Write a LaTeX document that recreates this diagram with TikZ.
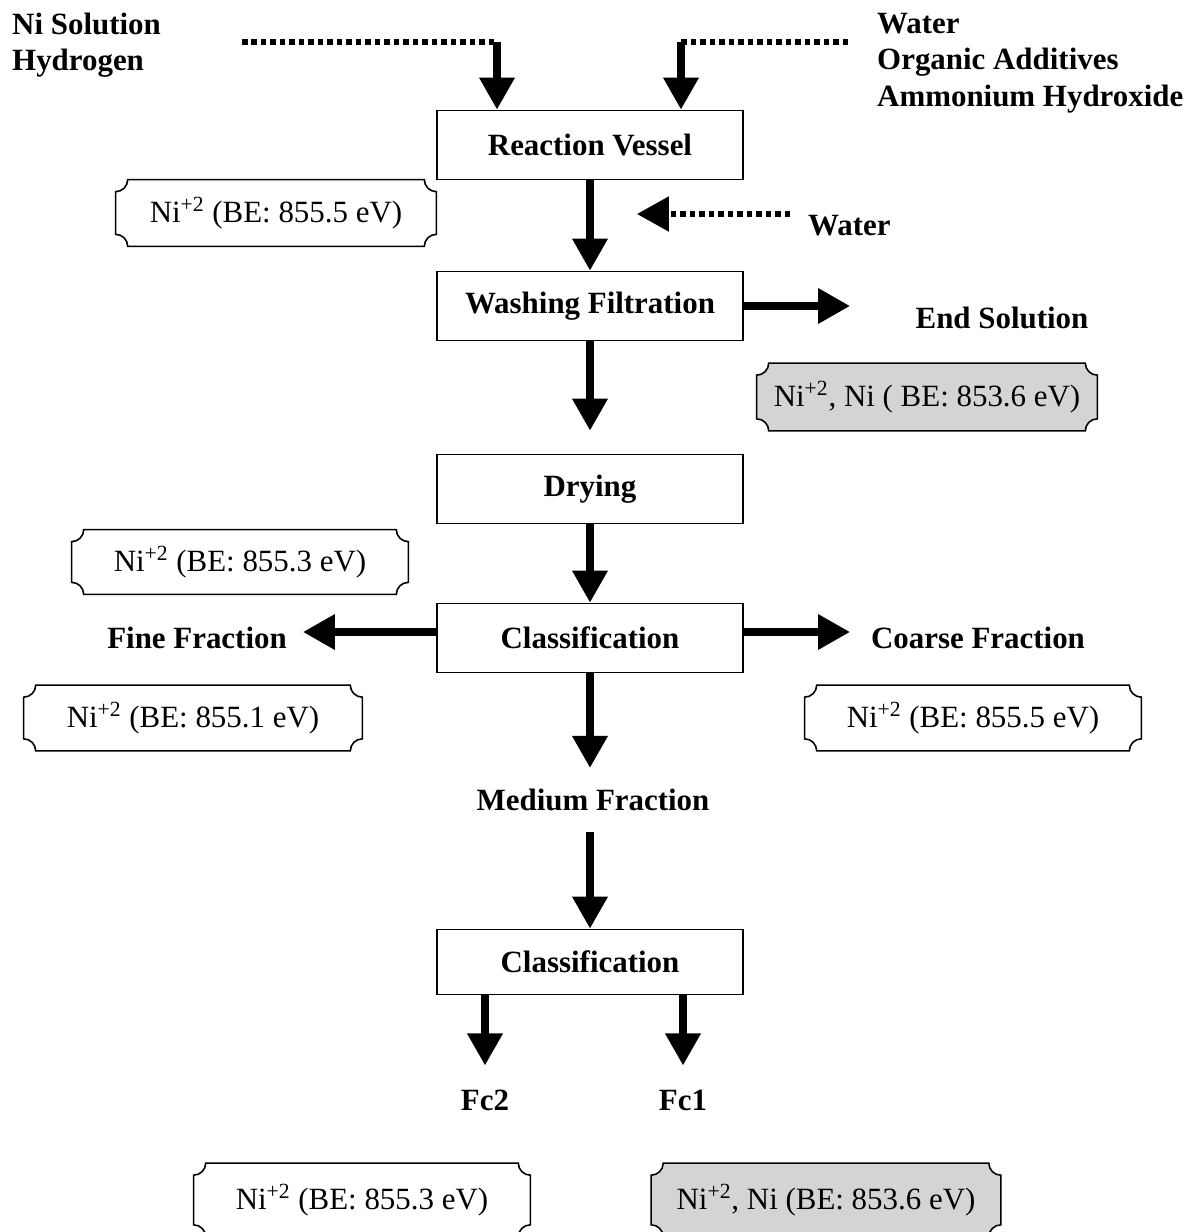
\documentclass[tikz,border=0pt]{standalone}
\usepackage{fontspec}
\setmainfont{Liberation Serif}
\usetikzlibrary{arrows.meta,calc,backgrounds}

\newcommand{\diafont}{\fontsize{17.6}{20.8}\selectfont}
% outline of a box with scooped corners, drawn round a named node
\newcommand{\plaquepath}[1]{%
  ($(#1.north west)+(2.4mm,0)$) -- ($(#1.north east)+(-2.4mm,0)$)
  arc[start angle=180,end angle=270,radius=2.4mm]
  -- ($(#1.south east)+(0,2.4mm)$)
  arc[start angle=90,end angle=180,radius=2.4mm]
  -- ($(#1.south west)+(2.4mm,0)$)
  arc[start angle=0,end angle=90,radius=2.4mm]
  -- ($(#1.north west)+(0,-2.4mm)$)
  arc[start angle=270,end angle=360,radius=2.4mm] -- cycle}

\tikzset{
  stepbox/.style={draw, line width=1.1pt, minimum width=6.12cm, minimum height=1.38cm, font=\diafont\bfseries},
  tag/.style={font=\diafont\bfseries, align=left},
  plaque/.style={minimum height=1.3cm, inner sep=0pt, font=\diafont},
  plaqueline/.style={line width=0.9pt},
  shaded/.style={fill=black!17},
  flow/.style={line width=4pt, -{Triangle[width=6.8mm,length=6.4mm]}},
  dotflow/.style={line width=3.2pt, dash pattern=on 1.1mm off 0.8mm},
}

\begin{document}
\begin{tikzpicture}[x=0.02cm, y=-0.02cm]
  \useasboundingbox (0,0) rectangle (1197,1232);

  % feed streams
  \node[tag, anchor=west] (nsol) at (6,45) {Ni Solution\\Hydrogen};
  \node[tag, anchor=west] (wadd) at (871,63) {Water\\Organic Additives\\Ammonium Hydroxide};
  \coordinate (nsin) at (242,42);
  \coordinate (nsbend) at (497,42);
  \coordinate (wain) at (848,42);
  \coordinate (wabend) at (681,42);

  \node[stepbox] (rv) at (590,145) {Reaction Vessel};
  \draw[dotflow] (nsin) -- (nsbend);
  \draw[flow] (nsbend) -- (nsbend |- rv.north);
  \draw[dotflow] (wain) -- (wabend);
  \draw[flow] (wabend) -- (wabend |- rv.north);

  \node[plaque, minimum width=6.4cm, minimum height=1.32cm] (prv) at (276,213) {Ni\textsuperscript{+2} (BE: 855.5 eV)};
  \draw[plaqueline] \plaquepath{prv};

  % washing
  \node[stepbox] (wf) at (590,306) {Washing Filtration};
  \draw[flow] (rv) -- (wf);
  \node[tag, anchor=west] (water) at (802,226) {Water};
  \coordinate (wstart) at (790,214);
  \coordinate (wtip) at (637,214);
  \draw[dotflow, -{Triangle[width=6.8mm,length=6.4mm]}] (wstart) -- (wtip);

  \node[tag] (esol) at (1002,318) {End Solution};
  \coordinate (estip) at (850,306);
  \draw[flow] (wf.east) -- (estip);

  \node[plaque, minimum width=6.8cm, minimum height=1.34cm] (pes) at (927,397) {Ni\textsuperscript{+2}, Ni ( BE: 853.6 eV)};
  \begin{scope}[on background layer]
    \draw[plaqueline, shaded] \plaquepath{pes};
  \end{scope}

  % drying and first classification
  \node[stepbox] (dry) at (590,489) {Drying};
  \draw[flow, shorten >=0.46cm] (wf) -- (dry);

  \node[plaque, minimum width=6.72cm, minimum height=1.28cm] (pdry) at (240,562) {Ni\textsuperscript{+2} (BE: 855.3 eV)};
  \draw[plaqueline] \plaquepath{pdry};

  \node[stepbox] (cls1) at (590,638) {Classification};
  \draw[flow] (dry) -- (cls1);

  \node[tag] (fine) at (197,638) {Fine Fraction};
  \coordinate (finetip) at (303,632);
  \draw[flow] (cls1.west |- finetip) -- (finetip);
  \node[tag] (coarse) at (978,638) {Coarse Fraction};
  \coordinate (coarsetip) at (850,632);
  \draw[flow] (cls1.east |- coarsetip) -- (coarsetip);

  \node[plaque, minimum width=6.76cm] (pfine) at (193,718) {Ni\textsuperscript{+2} (BE: 855.1 eV)};
  \draw[plaqueline] \plaquepath{pfine};
  \node[plaque, minimum width=6.72cm] (pcoarse) at (973,718) {Ni\textsuperscript{+2} (BE: 855.5 eV)};
  \draw[plaqueline] \plaquepath{pcoarse};

  % medium fraction, second classification
  \node[tag] (mf) at (593,800) {Medium Fraction};
  \draw[flow, shorten >=0.3cm] (cls1.south) -- (cls1.south |- mf.north);
  \node[stepbox, minimum height=1.3cm] (cls2) at (590,962) {Classification};
  \draw[flow, shorten <=0.3cm] (cls2.north |- mf.south) -- (cls2.north);

  \node[tag] (fc2) at (485,1100) {Fc2};
  \node[tag] (fc1) at (683,1100) {Fc1};
  \draw[flow, shorten >=0.36cm] (cls2.south -| fc2) -- (fc2);
  \draw[flow, shorten >=0.36cm] (cls2.south -| fc1) -- (fc1);

  \node[plaque, minimum width=6.72cm, minimum height=1.46cm] (pfc2) at (362,1200) {Ni\textsuperscript{+2} (BE: 855.3 eV)};
  \draw[plaqueline] \plaquepath{pfc2};
  \node[plaque, minimum width=6.98cm, minimum height=1.46cm] (pfc1) at (826,1200) {Ni\textsuperscript{+2}, Ni (BE: 853.6 eV)};
  \begin{scope}[on background layer]
    \draw[plaqueline, shaded] \plaquepath{pfc1};
  \end{scope}
\end{tikzpicture}
\end{document}
